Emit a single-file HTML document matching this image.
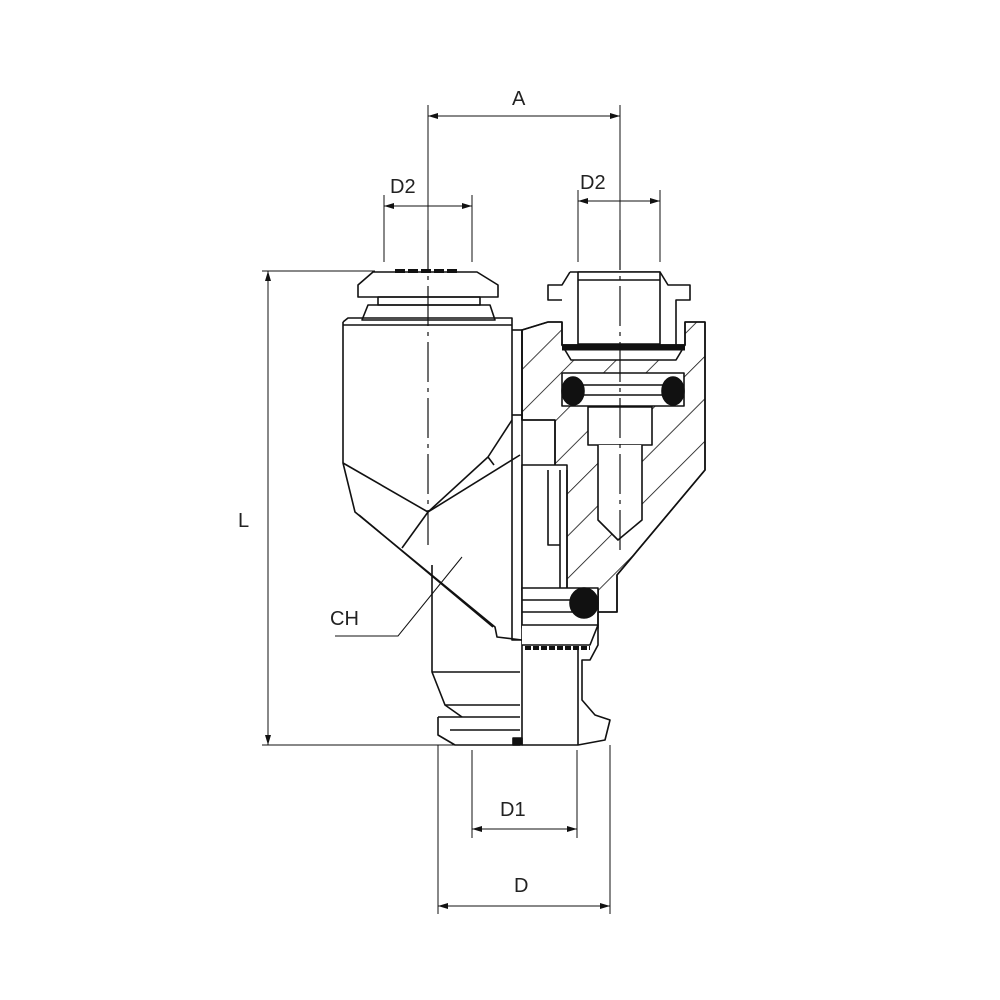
<!DOCTYPE html>
<html><head><style>body{margin:0;background:#fff}svg{display:block}text{font-family:"Liberation Sans",sans-serif;font-size:20px;fill:#222}</style></head>
<body>
<svg width="1000" height="1000" viewBox="0 0 1000 1000" xmlns="http://www.w3.org/2000/svg">
<defs>
<pattern id="h" width="30" height="30" patternUnits="userSpaceOnUse" patternTransform="rotate(45)"><line x1="0" y1="0" x2="0" y2="30" stroke="#111" stroke-width="1.6"/></pattern>
<marker id="ar" markerWidth="10" markerHeight="8" refX="10" refY="4" orient="auto-start-reverse"><path d="M0,1 L10,4 L0,7z" fill="#111"/></marker>
</defs>
<g stroke="#111" stroke-width="1" fill="none">
<line x1="428" y1="105" x2="428" y2="250"/>
<line x1="620" y1="105" x2="620" y2="250"/>
<line x1="384" y1="195" x2="384" y2="262"/>
<line x1="472" y1="195" x2="472" y2="262"/>
<line x1="578" y1="190" x2="578" y2="262"/>
<line x1="660" y1="190" x2="660" y2="262"/>
<line x1="262" y1="271" x2="375" y2="271"/>
<line x1="262" y1="745" x2="455" y2="745"/>
<line x1="472" y1="750" x2="472" y2="838"/>
<line x1="577" y1="750" x2="577" y2="838"/>
<line x1="438" y1="745" x2="438" y2="914"/>
<line x1="610" y1="745" x2="610" y2="914"/>
<g marker-start="url(#ar)" marker-end="url(#ar)">
<line x1="428" y1="116" x2="620" y2="116"/>
<line x1="384" y1="206" x2="472" y2="206"/>
<line x1="578" y1="201" x2="660" y2="201"/>
<line x1="268" y1="271" x2="268" y2="745"/>
<line x1="472" y1="829" x2="577" y2="829"/>
<line x1="438" y1="906" x2="610" y2="906"/>
</g>
<polyline points="335,636 398,636 462,557"/>
</g>
<text x="512" y="105">A</text>
<text x="390" y="193">D2</text>
<text x="580" y="189">D2</text>
<text x="238" y="527">L</text>
<text x="330" y="625">CH</text>
<text x="500" y="816">D1</text>
<text x="514" y="892">D</text>

<g stroke="#111" stroke-width="1.6" fill="none" stroke-linejoin="round">
<path d="M373,272 L477,272 L498,285 L498,297 L358,297 L358,285 Z"/>
<rect x="378" y="297" width="102" height="8"/>
<path d="M368,305 L490,305 L495,320 L362,320 Z"/>
<path d="M395,271 L460,271" stroke-width="4" stroke-dasharray="10 3"/>
<path d="M343,322 L348,318 L512,318 L512,640 L522,640"/>
<line x1="343" y1="325" x2="512" y2="325"/>
<path d="M343,322 L343,463 L355,512 L495,627 L497,637 L522,640"/>
<line x1="359" y1="515" x2="493" y2="627"/>
<line x1="343" y1="463" x2="428" y2="512"/>
<line x1="428" y1="512" x2="488" y2="457"/>
<line x1="488" y1="457" x2="512" y2="420"/>
<line x1="428" y1="512" x2="402" y2="548"/>
<line x1="428" y1="512" x2="520" y2="455"/>
<line x1="488" y1="457" x2="494" y2="465"/>
<line x1="512" y1="330" x2="522" y2="330"/>
<line x1="522" y1="330" x2="522" y2="745"/>
<line x1="512" y1="415" x2="522" y2="415"/>
<path d="M432,565 L432,672 L445,705 L520,705"/>
<line x1="432" y1="672" x2="520" y2="672"/>
<path d="M438,717 L520,717 M438,717 L438,735 L455,745 L520,745"/>
<line x1="445" y1="705" x2="462" y2="717"/>
<line x1="450" y1="730" x2="520" y2="730"/>
<path d="M522,330 L548,322 L562,322 L562,345 L685,345 L685,322 L705,322 L705,470 L617,575 L617,612 L598,612 L598,590 L555,590 L555,420 L522,420 Z" fill="url(#h)"/>
<path d="M522,330 L548,322 L562,322 L562,345 L685,345 L685,322 L705,322 L705,470 L617,575 L617,612 L598,612 L598,590 L555,590 L555,420 L522,420 Z"/>
<rect x="588" y="407" width="64" height="38" fill="#fff"/>
<path d="M598,445 L598,520 L618,540 L642,520 L642,445" fill="#fff"/>
<rect x="522" y="465" width="45" height="125" fill="#fff"/>
<path d="M548,470 L548,545 L560,545 L560,590 M560,470 L560,545 M567,470 L567,590"/>
<path d="M570,272 L660,272 L668,285 L690,285 L690,300 L676,300 L676,345 M570,272 L562,285 L548,285 L548,300 L562,300"/>
<rect x="578" y="272" width="82" height="72" fill="#fff"/>
<line x1="578" y1="280" x2="660" y2="280"/>
<path d="M562,345 L685,345 L676,360 L571,360 Z" fill="#fff"/>
<line x1="562" y1="348" x2="685" y2="348" stroke-width="5"/>
<rect x="562" y="373" width="122" height="33" fill="#fff"/>
<line x1="575" y1="385" x2="670" y2="385"/>
<line x1="575" y1="395" x2="670" y2="395"/>
<ellipse cx="573" cy="391" rx="11" ry="14" fill="#111"/>
<ellipse cx="673" cy="391" rx="11" ry="14" fill="#111"/>
<rect x="522" y="588" width="76" height="40" fill="#fff"/>
<line x1="522" y1="600" x2="590" y2="600"/>
<line x1="522" y1="612" x2="590" y2="612"/>
<ellipse cx="584" cy="603" rx="14" ry="15" fill="#111"/>
<path d="M522,625 L598,625 L590,645 L522,645" fill="#fff"/>
<line x1="525" y1="648" x2="590" y2="648" stroke-width="4" stroke-dasharray="6 2"/>
<path d="M598,612 L598,645 L590,660 L582,660 L582,700 L595,715 L610,720 L605,740 L578,745 L522,745"/>
<line x1="578" y1="650" x2="578" y2="745"/>
<rect x="513" y="738" width="9" height="7" fill="#111"/>
<line x1="428" y1="230" x2="428" y2="545" stroke-width="1.2" stroke-dasharray="40 6 4 6"/>
<line x1="620" y1="230" x2="620" y2="550" stroke-width="1.2" stroke-dasharray="40 6 4 6"/>
</g>
</svg>
</body></html>
